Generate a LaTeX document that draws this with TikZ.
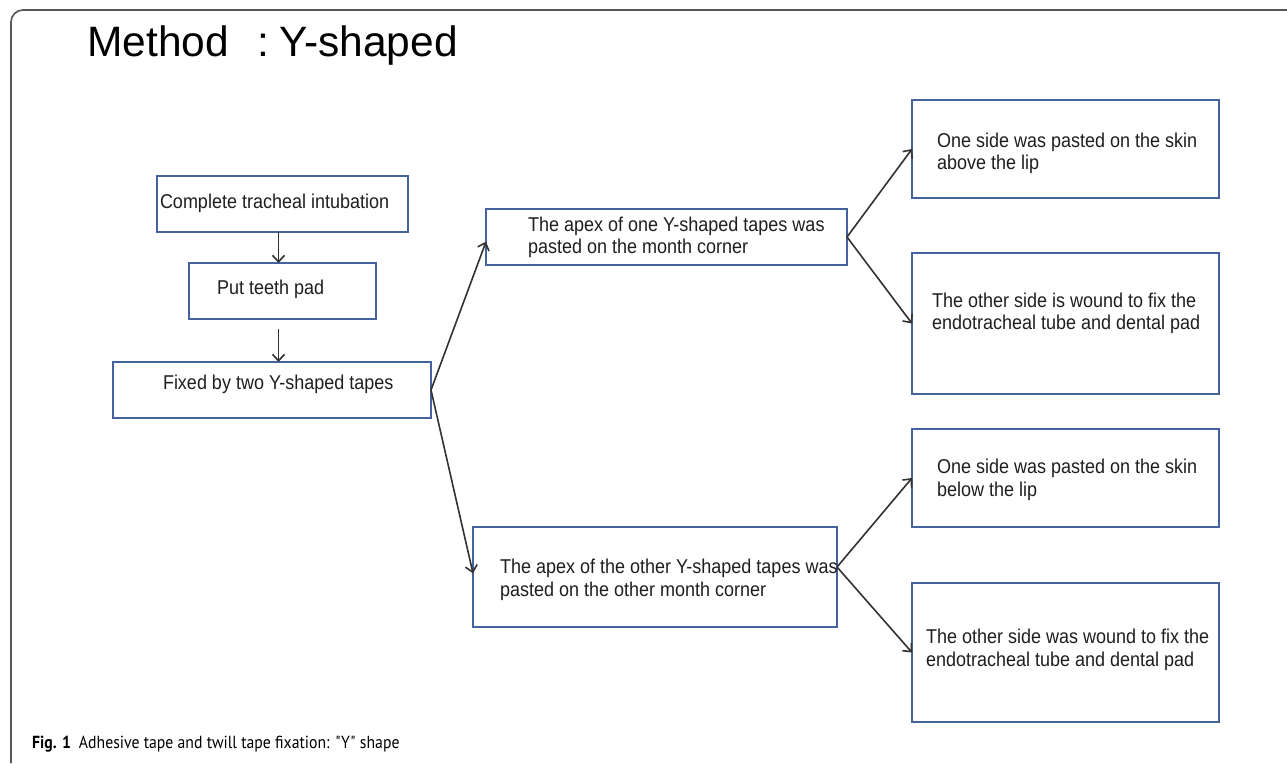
\documentclass[tikz,border=0pt]{standalone}
\usepackage{fontspec}
\setmainfont{Liberation Sans}[FakeStretch=0.9]
\newfontfamily\titlefont{Liberation Sans}
\newfontfamily\capfont{PT Sans}[FakeStretch=0.9]
\usetikzlibrary{arrows.meta,calc}
\definecolor{boxblue}{RGB}{68,98,158}
\definecolor{arrgray}{RGB}{50,50,50}
\definecolor{framegray}{RGB}{85,85,85}
\begin{document}
\begin{tikzpicture}[x=1pt,y=-1pt,
  box/.style={draw=boxblue,line width=1.9pt,rectangle,inner sep=0pt,outer sep=0pt},
  txt/.style={anchor=base west,inner sep=0pt,outer sep=0pt,align=left,text=black!88,font=\fontsize{20}{22.5}\selectfont},
  arr/.style={draw=arrgray,line width=1.6pt,-{Straight Barb[length=6.5pt,width=12pt,line width=1.6pt]}}]
\useasboundingbox[fill=white] (0,0) rectangle (1287,763);
% frame
\draw[framegray,line width=1.6pt,rounded corners=12pt] (11,763) -- (11,10) -- (1287,10);
% title
\node[anchor=base west,inner sep=0pt,font=\titlefont\fontsize{42.5}{50}\selectfont] (title) at (87,56.7) {Method\hspace{29pt}:\hspace{10pt}Y-shaped};
% boxes
\node[box,minimum width=251pt,minimum height=56pt] (b1) at (282.5,204) {};
\node[box,minimum width=187pt,minimum height=56pt] (b2) at (282.5,291) {};
\node[box,minimum width=318pt,minimum height=56pt] (b3) at (272,390) {};
\node[box,minimum width=361pt,minimum height=56pt] (b4) at (666.5,237) {};
\node[box,minimum width=364pt,minimum height=100pt] (b5) at (655,577) {};
\node[box,minimum width=307pt,minimum height=98pt] (b6) at (1065.5,149) {};
\node[box,minimum width=307pt,minimum height=141pt] (b7) at (1065.5,323.5) {};
\node[box,minimum width=307pt,minimum height=98pt] (b8) at (1065.5,478) {};
\node[box,minimum width=307pt,minimum height=139pt] (b9) at (1065.5,652.5) {};
% texts (multi-line nodes: base = last line)
\node[txt] (t1) at (160,208) {Complete tracheal intubation};
\node[txt] (t2) at (217,294) {Put teeth pad};
\node[txt] (t3) at (163,389) {Fixed by two Y-shaped tapes};
\node[txt] (t4) at (528,253.5) {The apex of one Y-shaped tapes was\\pasted on the month corner};
\node[txt] (t5) at (500,596) {The apex of the other Y-shaped tapes was\\pasted on the other month corner};
\node[txt] (t6) at (937,169.5) {One side was pasted on the skin\\above the lip};
\node[txt] (t7) at (932,329.5) {The other side is wound to fix the\\endotracheal tube and dental pad};
\node[txt] (t8) at (937,496) {One side was pasted on the skin\\below the lip};
\node[txt] (t9) at (926,666) {The other side was wound to fix the\\endotracheal tube and dental pad};
% connectors
\draw[arr] ([xshift=-4pt]b1.south) -- ([xshift=-4pt]b2.north);
\coordinate (a2) at ([xshift=-4pt,yshift=-10pt]b2.south);
\draw[arr] (a2) -- (a2 |- b3.north);
\draw[arr] (b3.east) -- ([yshift=-4.7pt]b4.west);
\draw[arr] (b3.east) -- ([yshift=3.7pt]b5.west);
\draw[arr] (b4.east) -- (b6.west);
\draw[arr] (b4.east) -- (b7.west);
\draw[arr] ([yshift=10pt]b5.east) -- (b8.west);
\draw[arr] ([yshift=10pt]b5.east) -- (b9.west);
% caption
\node[anchor=base west,inner sep=0pt,font=\capfont\fontsize{17.5}{20}\selectfont] (cap) at (32,748) {\textbf{Fig. 1}\hspace{8pt}Adhesive tape and twill tape fixation: "Y" shape};
\end{tikzpicture}
\end{document}
